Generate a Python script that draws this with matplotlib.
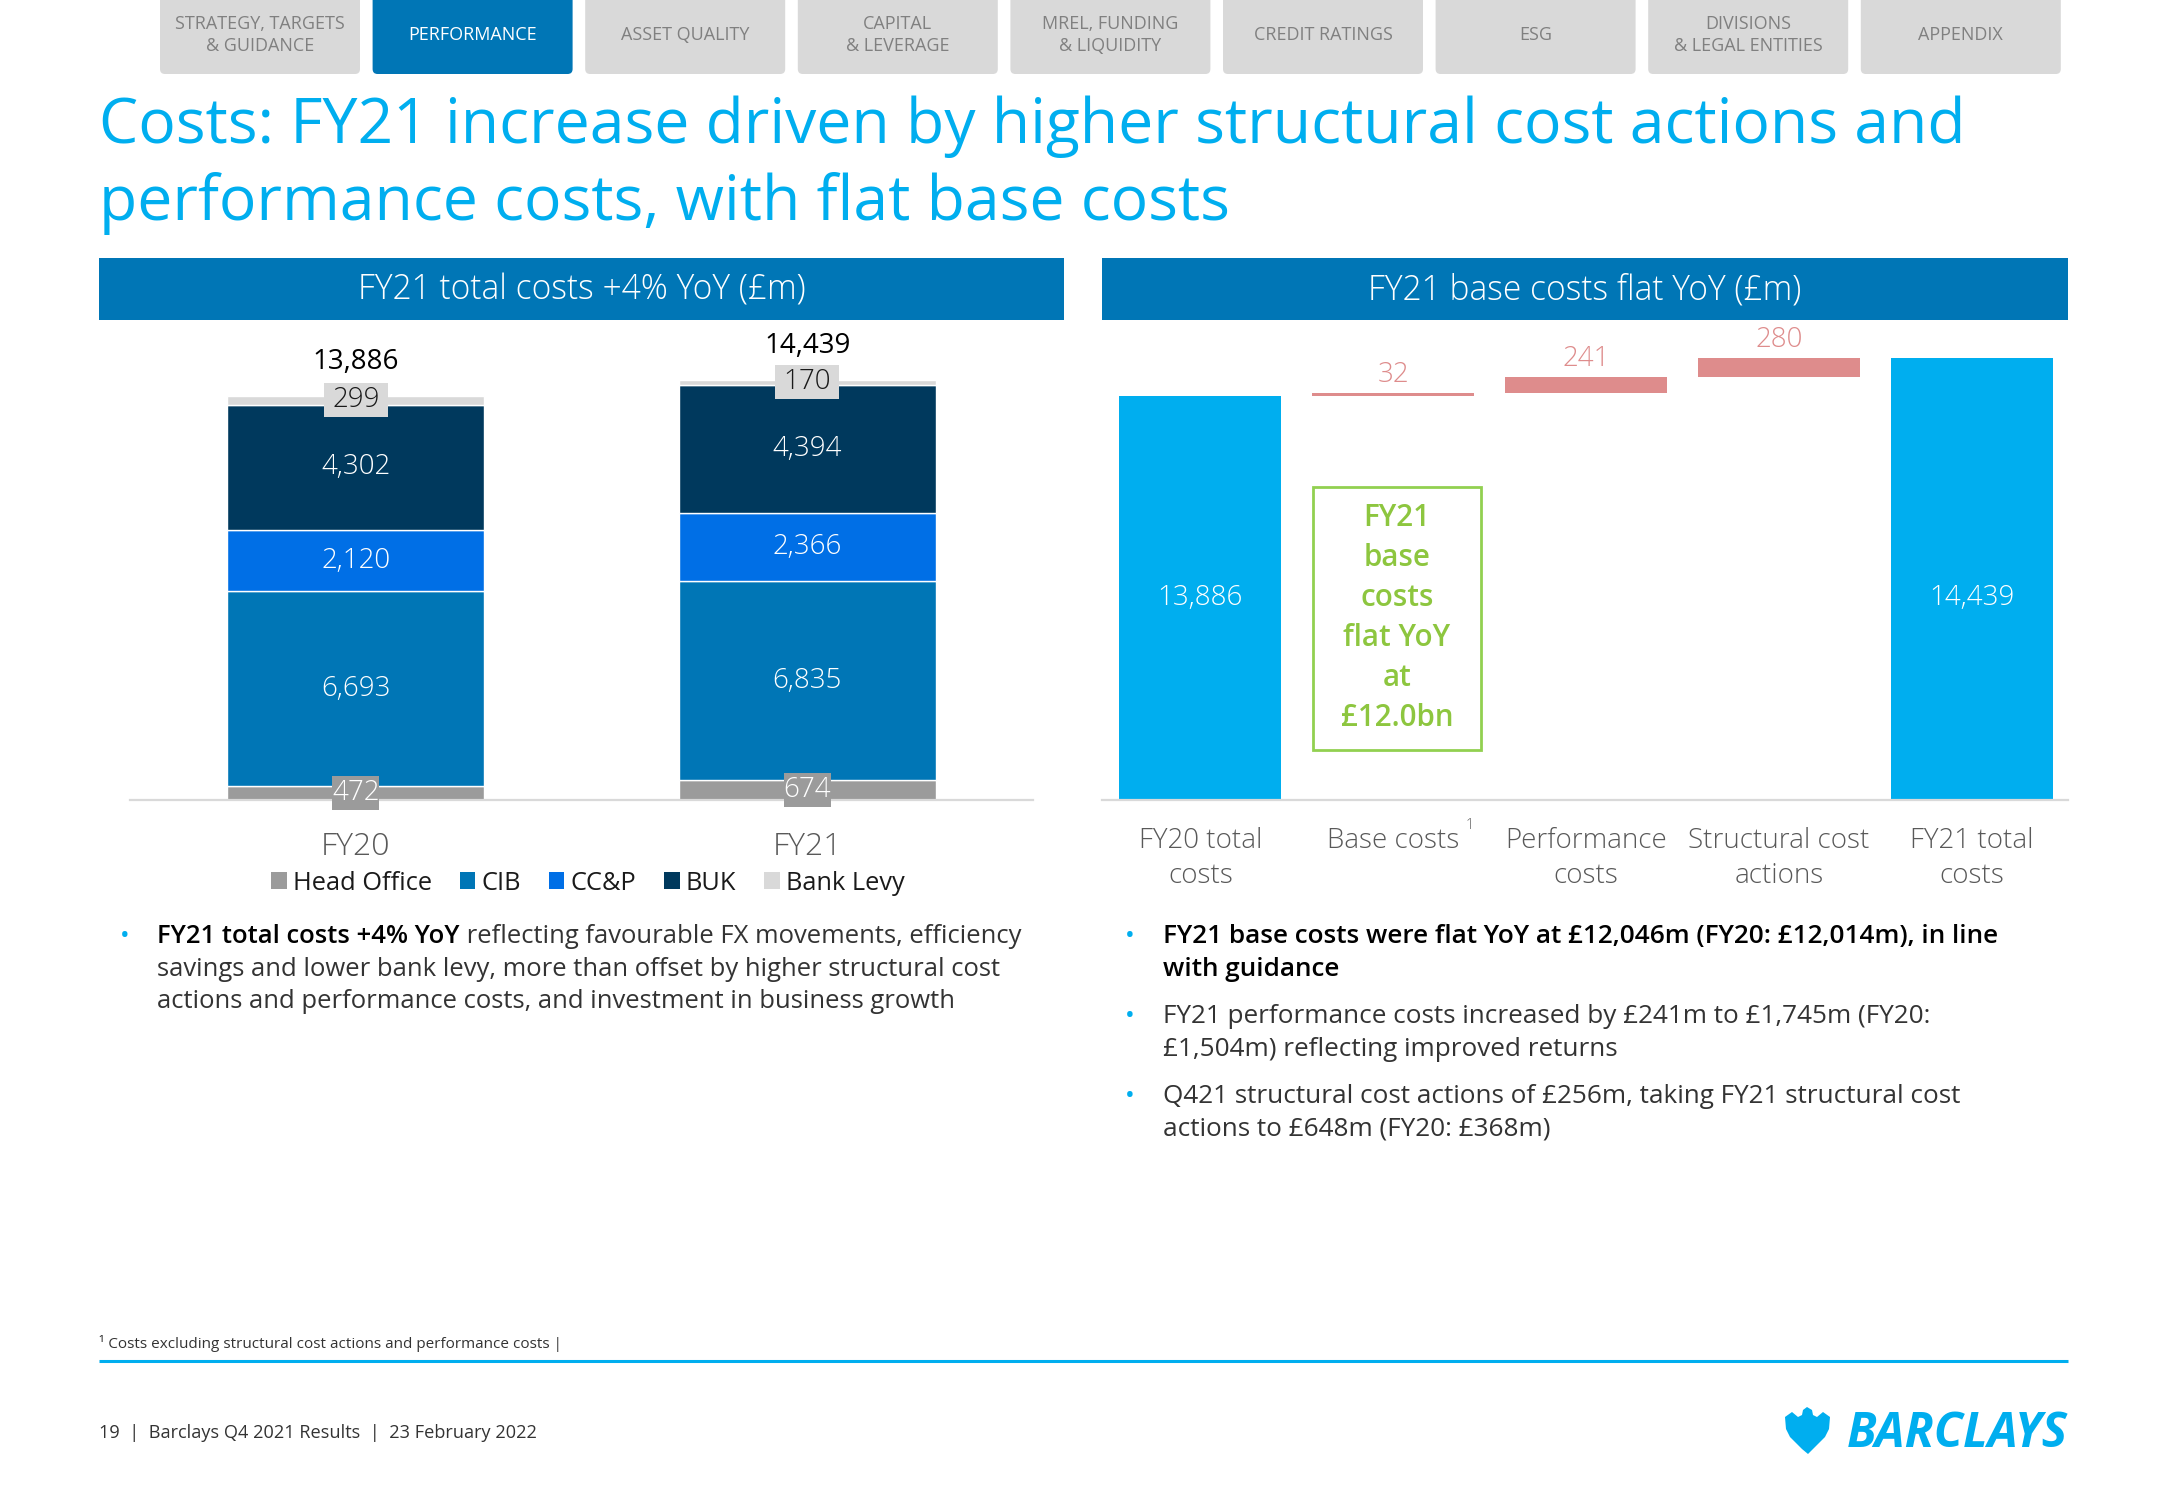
import numpy as np
import matplotlib
matplotlib.use("Agg")
import matplotlib.pyplot as plt
import matplotlib.transforms as mtransforms
from matplotlib.patches import FancyBboxPatch, Rectangle, Polygon, Patch

# ---------------- data ----------------
nav_tabs = ["STRATEGY, TARGETS\n& GUIDANCE", "PERFORMANCE", "ASSET QUALITY", "CAPITAL\n& LEVERAGE",
            "MREL, FUNDING\n& LIQUIDITY", "CREDIT RATINGS", "ESG", "DIVISIONS\n& LEGAL ENTITIES", "APPENDIX"]
active_tab = "PERFORMANCE"
title_lines = ["Costs: FY21 increase driven by higher structural cost actions and",
               "performance costs, with flat base costs"]
left_header = "FY21 total costs +4% YoY (£m)"
right_header = "FY21 base costs flat YoY (£m)"

years = ["FY20", "FY21"]
segment_names = ["Head Office", "CIB", "CC&P", "BUK", "Bank Levy"]
head_office = [472, 674]
cib = [6693, 6835]
ccp = [2120, 2366]
buk = [4302, 4394]
bank_levy = [299, 170]
total_costs = [13886, 14439]

wf_categories = ["FY20 total\ncosts", "Base costs", "Performance\ncosts", "Structural cost\nactions", "FY21 total\ncosts"]
wf_values = [13886, 32, 241, 280, 14439]
wf_is_total = [True, False, False, False, True]

callout_lines = ["FY21", "base", "costs", "flat YoY", "at", "£12.0bn"]

left_bullets = [
    [[("FY21 total costs +4% YoY", True), (" reflecting favourable FX movements, efficiency", False)],
     [("savings and lower bank levy, more than offset by higher structural cost", False)],
     [("actions and performance costs, and investment in business growth", False)]],
]
right_bullets = [
    [[("FY21 base costs were flat YoY at £12,046m (FY20: £12,014m), in line", True)],
     [("with guidance", True)]],
    [[("FY21 performance costs increased by £241m to £1,745m (FY20:", False)],
     [("£1,504m) reflecting improved returns", False)]],
    [[("Q421 structural cost actions of £256m, taking FY21 structural cost", False)],
     [("actions to £648m (FY20: £368m)", False)]],
]
footnote = "¹ Costs excluding structural cost actions and performance costs |"
footer = "19  |  Barclays Q4 2021 Results  |  23 February 2022"
logo_text = "BARCLAYS"

# ---------------- style ----------------
plt.rcParams["font.family"] = ["Open Sans", "DejaVu Sans"]
LIGHT = 300
CYAN = "#00AEEF"
BAND = "#0076B6"
SEG_COLORS = ["#9B9B9B", "#0076B6", "#006FE6", "#00395D", "#D9D9D9"]
PINK = "#DE8C8C"
GREEN_EDGE = "#92D050"
GREEN_TXT = "#8DC63F"
GREY_TXT = "#595959"
BODY = "#333333"

W, H, DPI = 2166, 1500, 100
fig = plt.figure(figsize=(W / DPI, H / DPI), dpi=DPI)
fig.patch.set_facecolor("white")
bg = fig.add_axes([0, 0, 1, 1])
bg.set_xlim(0, W)
bg.set_ylim(H, 0)
bg.axis("off")
renderer = fig.canvas.get_renderer()


def fit_size(s, target, weight="normal", style="normal", base=20.0):
    t = bg.text(0, 0, s, fontsize=base, fontweight=weight, fontstyle=style)
    w = t.get_window_extent(renderer).width
    t.remove()
    return base * target / w


def text_w(t):
    return t.get_window_extent(renderer).width


def axes_px(l, t, r, b):
    return fig.add_axes([l / W, 1 - b / H, (r - l) / W, (b - t) / H])


# ---------------- navigation tabs ----------------
tab_fs = fit_size("STRATEGY, TARGETS", 170)
for i, lab in enumerate(nav_tabs):
    x0 = 160 + i * 212.6
    active = lab == active_tab
    bg.add_patch(FancyBboxPatch((x0, -20), 200, 94, boxstyle="round,pad=0,rounding_size=5",
                                fc=BAND if active else "#D9D9D9", ec="none"))
    bg.text(x0 + 100, 35, lab, ha="center", va="center", fontsize=tab_fs,
            color="white" if active else "#808080", linespacing=1.25)

# ---------------- title ----------------
title_fs = fit_size(title_lines[0], 1860)
for i, line in enumerate(title_lines):
    bg.text(99, 143 + 77 * i, line, ha="left", va="baseline", fontsize=title_fs, color=CYAN)

# ---------------- header bands ----------------
band_fs = fit_size(left_header, 448, weight=LIGHT)
for (l, r), s in zip([(99, 1064), (1102, 2068)], [left_header, right_header]):
    bg.add_patch(Rectangle((l, 258), r - l, 62, fc=BAND, ec="none"))
    bg.text((l + r) / 2, 290, s, ha="center", va="center", fontsize=band_fs, color="white",
            fontweight=LIGHT)

# ---------------- left chart: stacked bars ----------------
ax1 = axes_px(130, 330, 1033, 800)
ax1.patch.set_alpha(0)
x = np.arange(len(years))
bottom = np.zeros(len(years))
series = [head_office, cib, ccp, buk, bank_levy]
handles = []
for name, vals, col in zip(segment_names, series, SEG_COLORS):
    vals = np.array(vals, dtype=float)
    ax1.bar(x, vals, 0.57, bottom=bottom, color=col, edgecolor="white", linewidth=1.0, zorder=2)
    handles.append(Patch(facecolor=col, edgecolor="none", label=name))
    for xi, v, b in zip(x, vals, bottom):
        yc = b + v / 2
        txt = f"{int(v):,}"
        if name in ("CIB", "CC&P", "BUK"):
            ax1.text(xi, yc, txt, ha="center", va="center", fontsize=20, color="white", zorder=4,
                     fontweight=LIGHT)
        else:
            w_box, h_box = (47, 34) if name == "Head Office" else (64, 34)
            fc = SEG_COLORS[0] if name == "Head Office" else "#D9D9D9"
            tc = "white" if name == "Head Office" else "#1A1A1A"
            tr = mtransforms.Affine2D() + mtransforms.ScaledTranslation(xi, yc, ax1.transData)
            ax1.add_patch(Rectangle((-w_box / 2, -h_box / 2), w_box, h_box, transform=tr,
                                    fc=fc, ec="none", zorder=5, clip_on=False))
            ax1.text(xi, yc, txt, ha="center", va="center", fontsize=20, color=tc, zorder=6,
                     clip_on=False, fontweight=LIGHT)
    bottom = bottom + vals
for xi, tot in zip(x, total_costs):
    ax1.annotate(f"{tot:,}", (xi, tot), xytext=(0, 34), textcoords="offset pixels",
                 ha="center", va="center", fontsize=20, color="black")
    ax1.annotate(years[xi], (xi, 0), xytext=(0, -55), textcoords="offset pixels",
                 ha="center", va="baseline", fontsize=23, color=GREY_TXT, fontweight=LIGHT)
ax1.set_xlim(-0.5, 1.5)
ax1.set_ylim(0, 16150)
for s in ["top", "right", "left"]:
    ax1.spines[s].set_visible(False)
ax1.spines["bottom"].set_color("#D9D9D9")
ax1.spines["bottom"].set_linewidth(1.6)
ax1.set_xticks([])
ax1.set_yticks([])
leg = ax1.legend(handles=handles, loc="center", bbox_to_anchor=(588, 883), bbox_transform=bg.transData,
                 ncol=5, frameon=False, fontsize=18.3, handlelength=0.6, handleheight=0.6,
                 handletextpad=0.25, columnspacing=1.1, borderpad=0, borderaxespad=0)
for t in leg.get_texts():
    t.set_color("#1A1A1A")

# ---------------- right chart: waterfall ----------------
ax2 = axes_px(1102, 330, 2068, 800)
ax2.patch.set_alpha(0)
ymin = 8000
running = 0
xs = np.arange(len(wf_values))
for xi, v, is_tot in zip(xs, wf_values, wf_is_total):
    if is_tot:
        b = 0
        running = v
        ax2.bar(xi, v, 0.84, bottom=b, color=CYAN, zorder=2)
    else:
        b = running
        running += v
        ax2.bar(xi, v, 0.84, bottom=b, color=PINK, zorder=2)
        ax2.annotate(f"{v:,}", (xi, b + v), xytext=(0, 11), textcoords="offset pixels",
                     ha="center", va="baseline", fontsize=20, color=PINK, fontweight=LIGHT)
mid = (ymin + wf_values[0]) / 2
for xi, v, is_tot in zip(xs, wf_values, wf_is_total):
    if is_tot:
        ax2.text(xi, mid, f"{v:,}", ha="center", va="center", fontsize=20, color="white", zorder=4,
                 fontweight=LIGHT)
    for k, line in enumerate(wf_categories[xi].split("\n")):
        ax2.annotate(line, (xi, 0), xycoords=("data", "axes fraction"), xytext=(0, -48 - 35 * k),
                     textcoords="offset pixels", ha="center", va="baseline", fontsize=20,
                     color=GREY_TXT, fontweight=LIGHT)
ax2.set_xlim(-0.51, 4.5)
ax2.set_ylim(ymin, 14841)
for s in ["top", "right", "left"]:
    ax2.spines[s].set_visible(False)
ax2.spines["bottom"].set_color("#D9D9D9")
ax2.spines["bottom"].set_linewidth(1.6)
ax2.set_xticks([])
ax2.set_yticks([])
bg.text(1466, 818, "1", ha="left", va="top", fontsize=10, color=GREY_TXT, fontweight=LIGHT)

# callout box
bg.add_patch(Rectangle((1313, 487), 168, 263, fc="none", ec=GREEN_EDGE, lw=2))
call_fs = fit_size("£12.0bn", 113, weight="semibold")
for k, line in enumerate(callout_lines):
    bg.text(1397, 518 + 40 * k, line, ha="center", va="center", fontsize=call_fs, color=GREEN_TXT,
            fontweight="semibold")


# ---------------- bullets ----------------
def draw_bullets(bullets, xb, xt, y0, line_gap, extra_gap, fs):
    y = y0
    for bl in bullets:
        bg.text(xb, y, "•", ha="left", va="baseline", fontsize=fs, color=CYAN)
        for line in bl:
            xx = xt
            for s, bold in line:
                t = bg.text(xx, y, s, ha="left", va="baseline", fontsize=fs,
                            fontweight="semibold" if bold else "normal",
                            color="black" if bold else BODY)
                xx += text_w(t)
            y += line_gap
        y += extra_gap


lfs = fit_size("savings and lower bank levy, more than offset by higher structural cost", 840)
rfs = fit_size("Q421 structural cost actions of £256m, taking FY21 structural cost", 796)
draw_bullets(left_bullets, 120, 157, 943, 32.5, 14, lfs)
draw_bullets(right_bullets, 1125, 1163, 943, 33, 14, rfs)

# ---------------- footer ----------------
bg.text(99, 1348, footnote, ha="left", va="baseline", fontsize=fit_size(footnote, 462), color=BODY)
bg.plot([99, 2068], [1361, 1361], color=CYAN, lw=2.2, solid_capstyle="butt")
bg.text(99, 1438, footer, ha="left", va="baseline", fontsize=fit_size(footer, 437), color=BODY)
logo_fs = fit_size(logo_text, 221, weight="bold", style="italic")
bg.text(1847, 1447, logo_text, ha="left", va="baseline", fontsize=logo_fs, fontweight="bold",
        fontstyle="italic", color=CYAN)
eagle = np.array([(22, 0), (27, 3), (28, 8), (32, 10), (38, 5), (45, 10), (44, 22), (40, 30),
                  (34, 36), (28, 42), (23, 47), (17, 42), (11, 36), (5, 30), (1, 22), (0, 10),
                  (7, 5), (13, 10), (17, 8), (18, 3)], dtype=float)
bg.add_patch(Polygon(eagle + np.array([1785, 1407]), closed=True, fc=CYAN, ec="none"))

fig.savefig("out.png", dpi=DPI, facecolor="white")
